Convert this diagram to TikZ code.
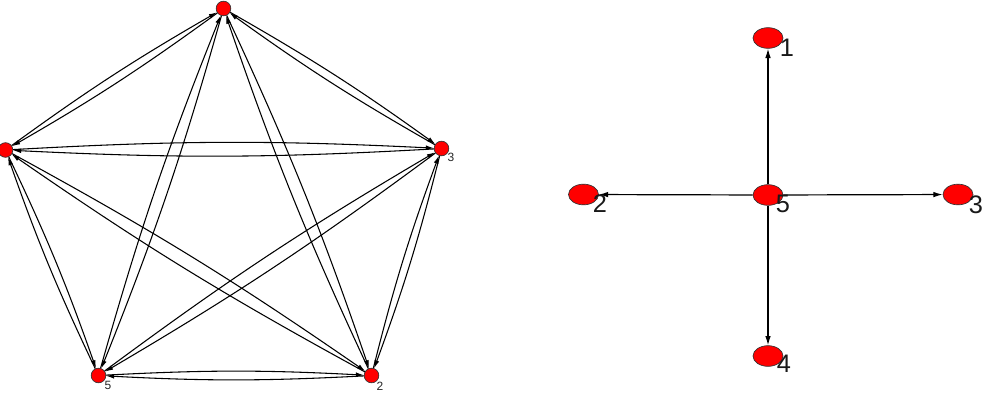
\documentclass[tikz,border=0pt]{standalone}
\usepackage{fontspec}
\setmainfont{Liberation Sans}
\usetikzlibrary{arrows.meta,shapes.geometric}
\begin{document}
\begin{tikzpicture}[x=0.75pt,y=-0.75pt,
  vsmall/.style={circle,draw=black!80,line width=0.5pt,fill=red,minimum size=11pt,inner sep=0pt},
  vbig/.style={ellipse,draw=black!80,line width=0.5pt,fill=red,minimum width=22.5pt,minimum height=15.5pt,inner sep=0pt},
  arr/.style={draw=black,line width=0.8pt,-{Latex[length=6pt,width=3.6pt]}},
  arrbig/.style={draw=black,line width=0.9pt,-{Latex[length=7pt,width=4.2pt]}},
  lblsmall/.style={inner sep=0pt,font=\fontsize{9}{9}\selectfont,text=black!85},
  lblbig/.style={inner sep=0pt,font=\fontsize{19}{19}\selectfont,text=black!90}]
\useasboundingbox (0,0) rectangle (988,411);
% left graph
\node[vsmall] (a1) at (223.5,8.5) {};
\node[vsmall] (a4) at (5.5,150) {};
\node[vsmall] (a3) at (441.5,148.5) {};
\node[vsmall] (a5) at (98.5,375.5) {};
\node[vsmall] (a2) at (371.5,375.5) {};
\node[lblsmall] (l3) at (451,157) {3};
\node[lblsmall] (l5) at (108,385.5) {5};
\node[lblsmall] (l2) at (380,386) {2};
\foreach \s/\t in {a1/a2,a1/a3,a1/a4,a1/a5,a2/a3,a2/a4,a2/a5,a3/a4,a3/a5,a4/a5}{
  \draw[arr] (\s) to[bend left=3] (\t);
  \draw[arr] (\t) to[bend left=3] (\s);
}
% right graph
\node[vbig] (b5) at (768,195) {};
\node[vbig] (b1) at (768,38) {};
\node[vbig] (b2) at (583.5,194.5) {};
\node[vbig] (b3) at (958,194.5) {};
\node[vbig] (b4) at (768,356) {};
\draw[arrbig] (b5) -- (b1);
\draw[arrbig] (b5) -- (b2);
\draw[arrbig] (b5) -- (b3);
\draw[arrbig] (b5) -- (b4);
\node[lblbig] (m1) at (787,47.5) {1};
\node[lblbig] (m2) at (600,204) {2};
\node[lblbig] (m3) at (976,205) {3};
\node[lblbig] (m4) at (784,363.5) {4};
\node[lblbig] (m5) at (783,204) {5};
\end{tikzpicture}
\end{document}
